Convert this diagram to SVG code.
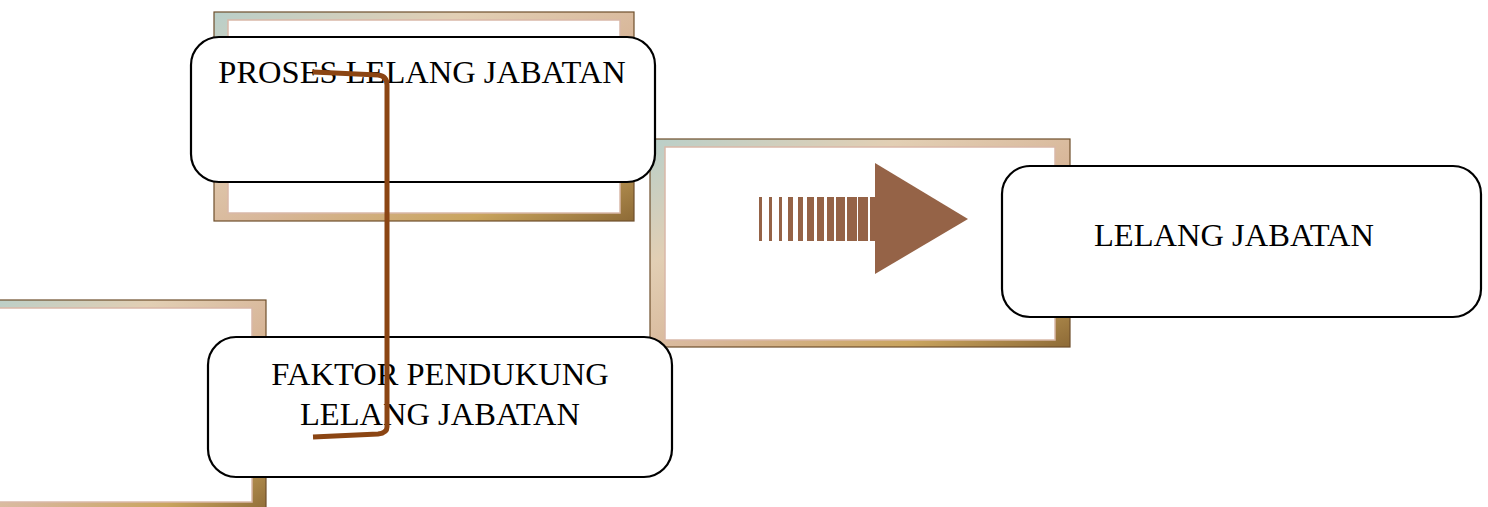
<svg xmlns="http://www.w3.org/2000/svg" width="1488" height="507" viewBox="0 0 1488 507">
<style>
.frameOuter{fill:url(#fg);stroke:#6e4f2c;stroke-width:1.2}
.frameInner{fill:#ffffff;stroke:#d9b8a8;stroke-width:1.5}
.box{fill:#ffffff;stroke:#000000;stroke-width:2.2}
.lbl{font-family:"Liberation Serif","Times New Roman",serif;font-size:32.5px;fill:#000000;text-anchor:middle}
.conn{fill:none;stroke:#8B4513;stroke-width:5;stroke-linecap:butt;stroke-linejoin:round}
.arrow{fill:#956347}
</style>
<defs>
<linearGradient id="fg" x1="0" y1="0" x2="1" y2="1">
<stop offset="0" stop-color="#b9cfc9"/>
<stop offset="0.3" stop-color="#e2cfb4"/>
<stop offset="0.55" stop-color="#d8b79a"/>
<stop offset="0.8" stop-color="#c9a45e"/>
<stop offset="1" stop-color="#8d6a36"/>
</linearGradient>
</defs>
<rect width="1488" height="507" fill="#ffffff"/>

<g id="frame-top">
<rect class="frameOuter" x="214" y="12" width="420" height="209"/>
<rect class="frameInner" x="228" y="20" width="392" height="193"/>
</g>
<g id="frame-middle">
<rect class="frameOuter" x="650" y="139" width="420" height="208"/>
<rect class="frameInner" x="665" y="147" width="390" height="193"/>
</g>
<g id="frame-bottom">
<rect class="frameOuter" x="-14" y="300" width="280" height="215"/>
<rect class="frameInner" x="-2" y="308" width="254" height="194"/>
</g>

<g id="big-arrow">
<rect class="arrow" x="759" y="197" width="3" height="44"/>
<rect class="arrow" x="769" y="197" width="3" height="44"/>
<rect class="arrow" x="779" y="197" width="3" height="44"/>
<rect class="arrow" x="788" y="197" width="5" height="44"/>
<rect class="arrow" x="798" y="197" width="5" height="44"/>
<rect class="arrow" x="807" y="197" width="7" height="44"/>
<rect class="arrow" x="817" y="197" width="7" height="44"/>
<rect class="arrow" x="827" y="197" width="7" height="44"/>
<rect class="arrow" x="836" y="197" width="9" height="44"/>
<rect class="arrow" x="847" y="197" width="10" height="44"/>
<rect class="arrow" x="858" y="197" width="10" height="44"/>
<rect class="arrow" x="870" y="197" width="6" height="44"/>
<polygon class="arrow" points="875,163 968,219 875,274"/>
</g>

<g id="node-proses">
<rect class="box" x="191" y="37" width="464" height="145" rx="28" ry="28"/>
<text class="lbl" x="422" y="83">PROSES LELANG JABATAN</text>
</g>
<g id="node-faktor">
<rect class="box" x="208" y="337" width="464" height="140" rx="28" ry="28"/>
<text class="lbl" x="440" y="385">FAKTOR PENDUKUNG</text>
<text class="lbl" x="440" y="425">LELANG JABATAN</text>
</g>
<g id="node-lelang">
<rect class="box" x="1002" y="166" width="479" height="151" rx="28" ry="28"/>
<text class="lbl" x="1234" y="246">LELANG JABATAN</text>
</g>

<g id="connectors">
<path class="conn" d="M313,72 L378,75 Q387,76 387,85 L387,427 Q387,433 378,434 L313,437"/>
</g>
</svg>
